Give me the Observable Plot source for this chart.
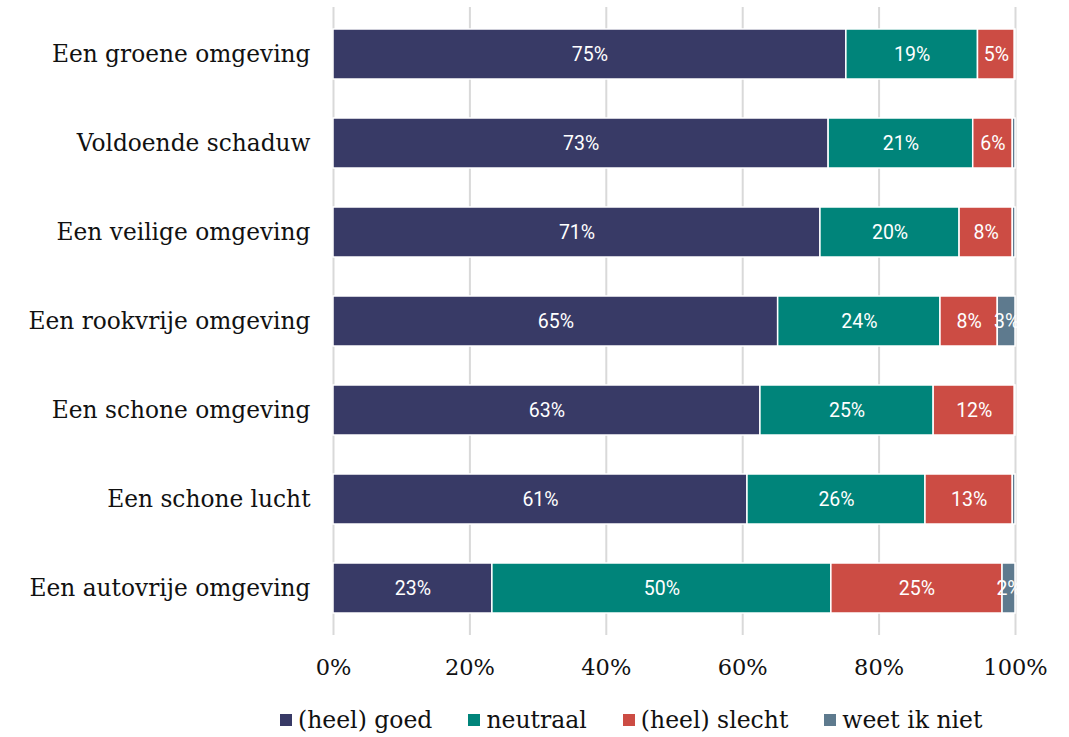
<!DOCTYPE html>
<html>
<head>
<meta charset="utf-8">
<script src="https://cdn.jsdelivr.net/npm/d3@7"></script>
<script src="https://cdn.jsdelivr.net/npm/@observablehq/plot@0.6"></script>
<style>
  body { margin: 0; background: #fff; }
  #chart svg { display: block; }
  .legend { display: flex; align-items: center; padding-left: 280px; padding-top: 12px; height: 35px; font-family: "DejaVu Serif", "Liberation Serif", serif; font-size: 23.5px; color: #111; }
  .legend .item { display: flex; align-items: center; margin-right: 36px; }
  .legend .sw { width: 12px; height: 12px; margin-right: 6px; display: inline-block; }
</style>
</head>
<body>
<div id="chart"></div>
<div class="legend" id="legend"></div>
<script>
const categories = ["Een groene omgeving", "Voldoende schaduw", "Een veilige omgeving", "Een rookvrije omgeving", "Een schone omgeving", "Een schone lucht", "Een autovrije omgeving"];
const seriesNames = ["(heel) goed", "neutraal", "(heel) slecht", "weet ik niet"];
const goed     = [75.2, 72.6, 71.4, 65.2, 62.6, 60.7, 23.3];
const neutraal = [19.3, 21.2, 20.4, 23.8, 25.4, 26.1, 49.7];
const slecht   = [5.4, 5.8, 7.8, 8.4, 11.9, 12.8, 25.1];
const weet     = [0.1, 0.4, 0.4, 2.6, 0.1, 0.4, 1.9];
const xTicks = [0, 20, 40, 60, 80, 100];
const colors = ["#383a66", "#00847a", "#cc4c44", "#5e7a8e"];

const seriesValues = [goed, neutraal, slecht, weet];
const data = [];
categories.forEach((c, i) => {
  seriesNames.forEach((s, j) => {
    data.push({cat: c, series: s, value: seriesValues[j][i]});
  });
});

const serif = '"DejaVu Serif", "Liberation Serif", serif';

const chart = Plot.plot({
  width: 1069,
  height: 690,
  marginTop: 7,
  marginBottom: 55,
  marginLeft: 333,
  marginRight: 54,
  style: {fontFamily: serif, color: "#111", background: "#fff"},
  x: {domain: [0, 100], ticks: xTicks, label: null},
  y: {domain: categories, padding: 0.44, paddingOuter: 0.217, label: null},
  color: {domain: seriesNames, range: colors},
  marks: [
    Plot.gridX(xTicks, {stroke: "#d9d9d9", strokeOpacity: 1, strokeWidth: 2}),
    Plot.barX(data, Plot.stackX({x: "value", y: "cat", z: "series", fill: "series", order: seriesNames, stroke: "white", strokeWidth: 1.5})),
    Plot.text(data, Plot.stackX({
      x: "value", y: "cat", z: "series", order: seriesNames,
      text: d => Math.round(d.value) >= 1 ? Math.round(d.value) + "%" : "",
      fill: "white", fontSize: 19.5, fontFamily: "Roboto, sans-serif"
    })),
    Plot.axisY({tickSize: 0, tickPadding: 23, fontSize: 23.3, fontFamily: serif, label: null}),
    Plot.axisX({ticks: xTicks, tickSize: 0, tickPadding: 24, fontSize: 22.5, fontFamily: serif, tickFormat: d => d + "%", label: null})
  ]
});
document.getElementById("chart").appendChild(chart);

const legend = document.getElementById("legend");
seriesNames.forEach((s, i) => {
  const item = document.createElement("div");
  item.className = "item";
  const sw = document.createElement("span");
  sw.className = "sw";
  sw.style.background = colors[i];
  item.appendChild(sw);
  item.appendChild(document.createTextNode(s));
  legend.appendChild(item);
});
</script>
</body>
</html>
